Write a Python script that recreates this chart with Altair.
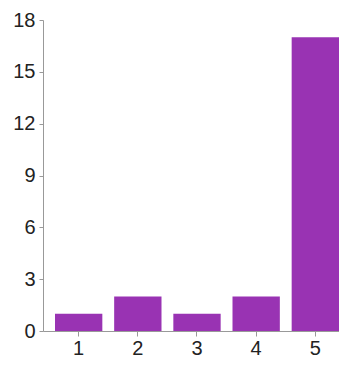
import altair as alt
import pandas as pd

categories = ["1", "2", "3", "4", "5"]
counts = [1, 2, 1, 2, 17]
y_ticks = [0, 3, 6, 9, 12, 15, 18]

df = pd.DataFrame({"cat": categories, "count": counts})

chart = alt.Chart(df).mark_bar(color="#9933B3").encode(
    x=alt.X("cat:N", sort=categories, title=None,
            scale=alt.Scale(paddingInner=0.2, paddingOuter=0.1014, align=1),
            axis=alt.Axis(labelAngle=0, labelFontSize=20, labelColor="#222222",
                          labelFont="Liberation Sans", domainColor="#999999",
                          tickColor="#999999", tickSize=5, labelPadding=2)),
    y=alt.Y("count:Q", title=None,
            scale=alt.Scale(domain=[0, 18], nice=False),
            axis=alt.Axis(values=y_ticks, grid=False, labelFontSize=20,
                          labelColor="#222222", labelFont="Liberation Sans",
                          domainColor="#999999", tickColor="#999999",
                          tickSize=4, labelPadding=4)),
).properties(
    width=296, height=311,
    autosize=alt.AutoSizeParams(type="none"),
    padding={"left": 35, "top": 12, "right": 0, "bottom": 27},
).configure_view(stroke=None)

chart.save("out.html", embed_options={"renderer": "svg", "actions": False})
